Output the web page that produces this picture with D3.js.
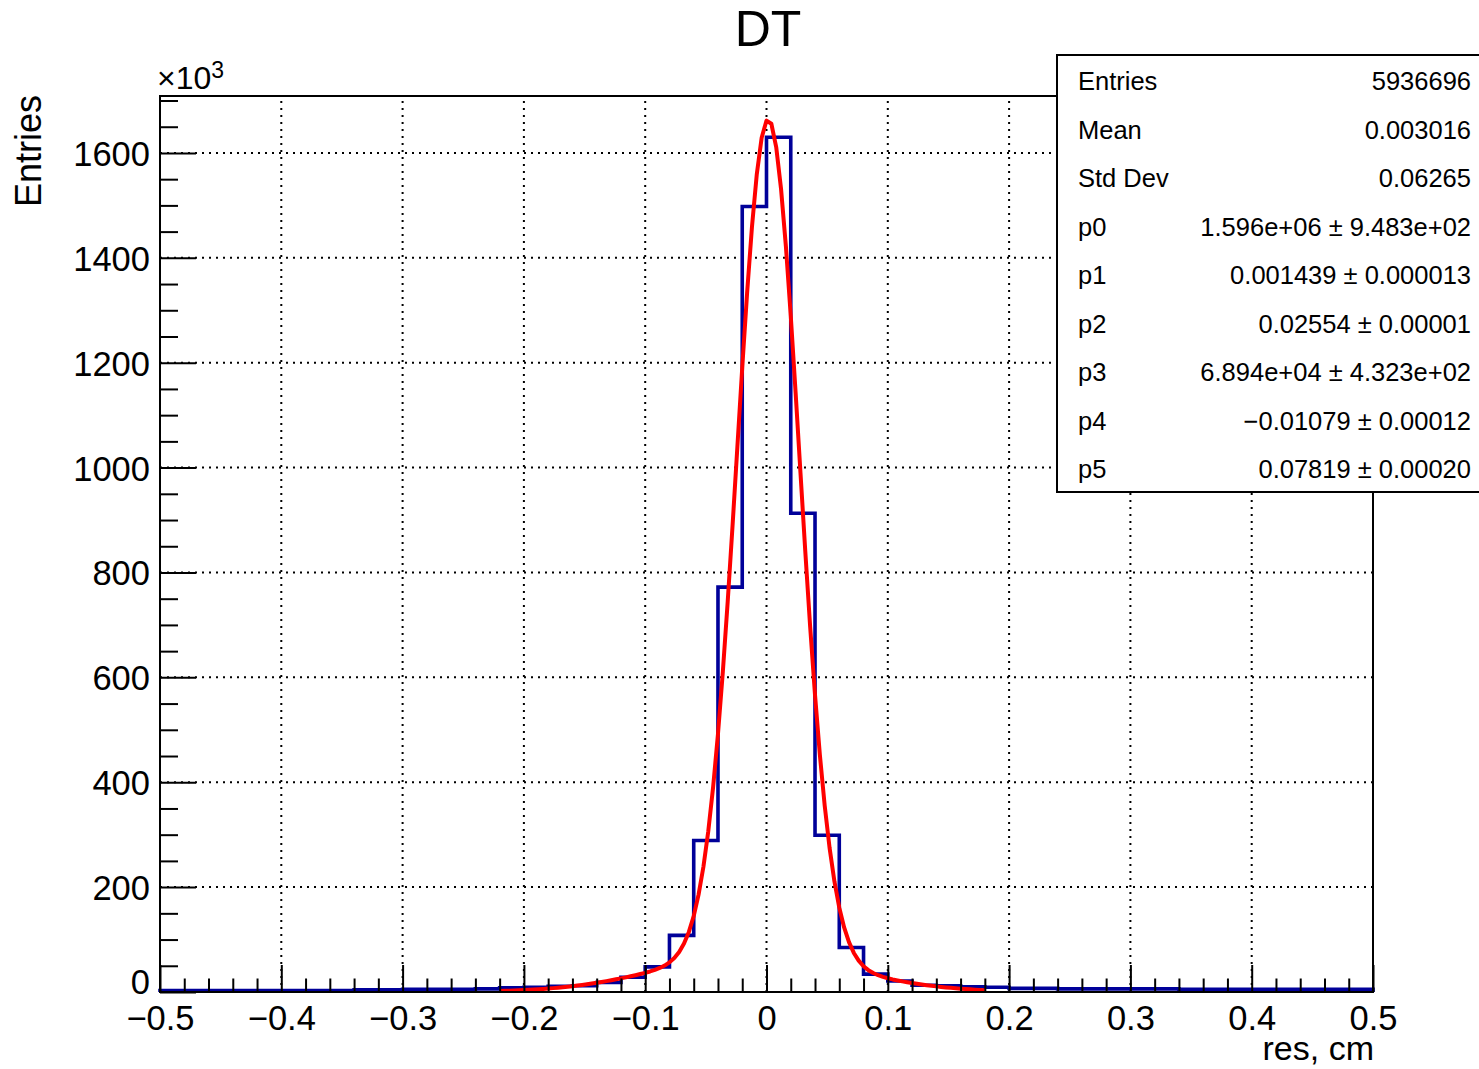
<!DOCTYPE html>
<html>
<head>
<meta charset="UTF-8">
<title>DT</title>
<script src="https://d3js.org/d3.v7.min.js"></script>
<style>
  * { margin: 0; padding: 0; }
  body { background: #fff; width: 1479px; height: 1069px; overflow: hidden; }
  svg { display: block; font-family: 'Liberation Sans', Arial, sans-serif; }
</style>
</head>
<body>
<svg id="chart" width="1479" height="1069"></svg>
<script>
// histogram: 50 bins from -0.5 to 0.5, counts in units of 10^3
const binLow = -0.5, binWidth = 0.02;
const counts = [
  3, 3, 3, 3, 3, 3, 3, 3, 4, 4,
  5, 5, 5, 6, 8, 9, 11, 12, 18, 28,
  48, 108, 289, 772, 1498, 1630, 913, 299, 85, 34,
  21, 13, 12, 10, 9, 7, 7, 6, 6, 6,
  6, 6, 5, 5, 5, 5, 5, 5, 5, 5
];

// fit parameters from the stats box (double gaussian), fit range
const fitPars = [1.596e6, 0.001439, 0.02554, 6.894e4, -0.01079, 0.07819];
const fitRange = [-0.22, 0.18];
const fitNpx = 100;

const xTicks = [-0.5, -0.4, -0.3, -0.2, -0.1, 0, 0.1, 0.2, 0.3, 0.4, 0.5];
const yTicks = [0, 200, 400, 600, 800, 1000, 1200, 1400, 1600];

const statLabels = ['Entries', 'Mean', 'Std Dev', 'p0', 'p1', 'p2', 'p3', 'p4', 'p5'];
const statValues = ['5936696', '0.003016', '0.06265',
  '1.596e+06 \u00b1 9.483e+02', '0.001439 \u00b1 0.000013', '0.02554 \u00b1 0.00001',
  '6.894e+04 \u00b1 4.323e+02', '\u22120.01079 \u00b1 0.00012', '0.07819 \u00b1 0.00020'];

(function() {
  const L = 160, R = 1373, T = 96, B = 992;
  const svg = d3.select('#chart');
  const x = d3.scaleLinear().domain([-0.5, 0.5]).range([L, R]);
  const y = d3.scaleLinear().domain([0, 1708.6]).range([B, T]);
  const fmt = v => (v < 0 ? '\u2212' : '') + (v === 0 ? '0' : Math.abs(v).toFixed(1));

  // grid
  const grid = svg.append('g').attr('stroke', '#000').attr('stroke-width', 2).attr('stroke-dasharray', '2,5');
  xTicks.slice(1, -1).forEach(t => {
    grid.append('line').attr('x1', x(t)).attr('x2', x(t)).attr('y1', B).attr('y2', T);
  });
  yTicks.slice(1).forEach(t => {
    grid.append('line').attr('x1', L).attr('x2', R).attr('y1', y(t)).attr('y2', y(t));
  });

  // histogram outline
  const pts = [[x(binLow), y(0)]];
  counts.forEach((c, i) => {
    const x0 = binLow + i * binWidth;
    pts.push([x(x0), y(c)], [x(x0 + binWidth), y(c)]);
  });
  pts.push([x(binLow + counts.length * binWidth), y(0)]);
  svg.append('path').attr('d', d3.line()(pts))
    .attr('fill', 'none').attr('stroke', '#000099').attr('stroke-width', 3.6);

  // fit function
  const [p0, p1, p2, p3, p4, p5] = fitPars;
  const f = v => (p0 * Math.exp(-0.5 * ((v - p1) / p2) ** 2) + p3 * Math.exp(-0.5 * ((v - p4) / p5) ** 2)) / 1000;
  const fx = d3.range(fitNpx + 1).map(i => fitRange[0] + i * (fitRange[1] - fitRange[0]) / fitNpx);
  svg.append('path').attr('d', d3.line().x(v => x(v)).y(v => y(f(v)))(fx))
    .attr('fill', 'none').attr('stroke', '#ff0000').attr('stroke-width', 4).attr('stroke-linejoin', 'round');

  // frame
  svg.append('rect').attr('x', L).attr('y', T).attr('width', R - L).attr('height', B - T)
    .attr('fill', 'none').attr('stroke', '#000').attr('stroke-width', 2);

  // x axis ticks (inside)
  const xAxis = svg.append('g').attr('transform', `translate(0,${B})`)
    .call(d3.axisBottom(x).tickValues(d3.range(0, 51).map(i => -0.5 + i * 0.02)).tickSize(0).tickFormat(''));
  xAxis.select('.domain').remove();
  xAxis.selectAll('.tick line').attr('y2', (d, i) => i % 5 === 0 ? -27 : -13.5)
    .attr('stroke', '#000').attr('stroke-width', 2);
  const xLab = svg.append('g').attr('transform', `translate(0,${B})`)
    .call(d3.axisBottom(x).tickValues(xTicks).tickSize(0).tickPadding(0).tickFormat(fmt));
  xLab.select('.domain').remove();
  xLab.selectAll('text').attr('font-size', 34.5).attr('font-family', 'Liberation Sans, Arial, sans-serif')
    .attr('fill', '#000').attr('dy', null).attr('y', 37.5);

  // y axis ticks (inside)
  const yAxis = svg.append('g').attr('transform', `translate(${L},0)`)
    .call(d3.axisLeft(y).tickValues(d3.range(0, 35).map(i => i * 50)).tickSize(0).tickFormat(''));
  yAxis.select('.domain').remove();
  yAxis.selectAll('.tick line').attr('x2', (d, i) => i % 4 === 0 ? 36 : 18)
    .attr('stroke', '#000').attr('stroke-width', 2);
  const yLab = svg.append('g').attr('transform', `translate(${L},0)`)
    .call(d3.axisLeft(y).tickValues(yTicks).tickSize(0).tickPadding(10).tickFormat(d3.format('d')));
  yLab.select('.domain').remove();
  yLab.selectAll('text').attr('font-size', 34.5).attr('font-family', 'Liberation Sans, Arial, sans-serif')
    .attr('fill', '#000').attr('dy', '0.36em');
  // the "0" label sits a little higher so it clears the x labels
  yLab.selectAll('.tick').filter(d => d === 0).select('text').attr('dy', '0.05em');

  // labels
  svg.append('text').attr('x', 768).attr('y', 46).attr('text-anchor', 'middle')
    .attr('font-size', 50).text('DT');
  svg.append('text').attr('transform', 'translate(41,95) rotate(-90)').attr('text-anchor', 'end')
    .attr('font-size', 36).text('Entries');
  svg.append('text').attr('x', R + 1).attr('y', 1060).attr('text-anchor', 'end')
    .attr('font-size', 34).text('res, cm');
  const mult = svg.append('text').attr('x', 157).attr('y', 89).attr('font-size', 32);
  mult.append('tspan').text('\u00d710');
  mult.append('tspan').attr('font-size', 23).attr('dy', -11).text('3');

  // stats box
  const box = svg.append('g');
  box.append('rect').attr('x', 1057).attr('y', 55).attr('width', 440).attr('height', 437)
    .attr('fill', '#fff').attr('stroke', '#000').attr('stroke-width', 2);
  statLabels.forEach((s, i) => {
    const by = 90 + i * 48.5;
    box.append('text').attr('x', 1078).attr('y', by).attr('font-size', 25.5).text(s);
    box.append('text').attr('x', 1471).attr('y', by).attr('font-size', 25.5)
      .attr('text-anchor', 'end').text(statValues[i]);
  });
})();
</script>
</body>
</html>
